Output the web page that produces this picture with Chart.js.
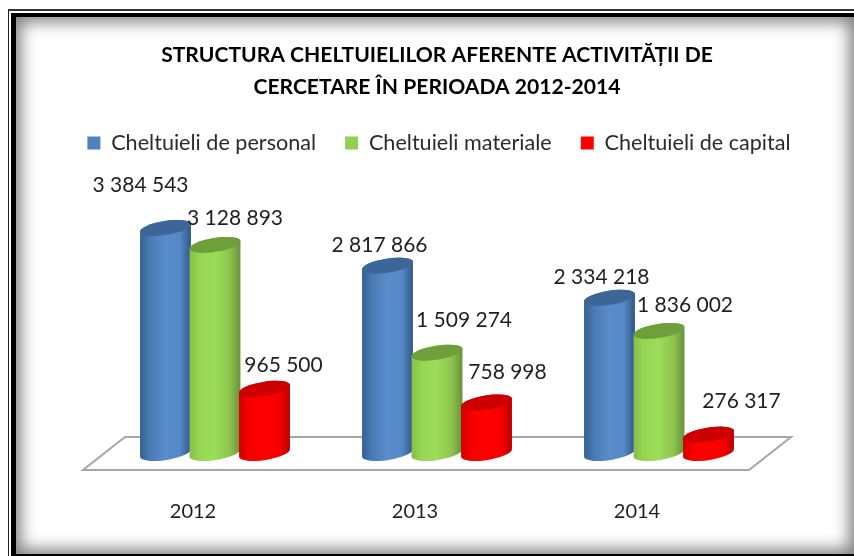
<!DOCTYPE html>
<html><head><meta charset="utf-8">
<style>
html,body{margin:0;padding:0;background:#fff;width:854px;height:556px;overflow:hidden}
#f1{position:absolute;left:8px;top:9px;width:846px;height:547px;box-sizing:border-box;border-left:1px solid #222;border-top:2px solid #333}
#f2{position:absolute;left:11px;top:13px;width:843px;height:543px;box-sizing:border-box;border-style:solid;border-color:#000;border-width:4px 0 2px 5px;box-shadow:inset 0 0 16px 5px #808080}
canvas{position:absolute;left:20px;top:0;filter:blur(0.35px)}
</style>
<script src="https://cdn.jsdelivr.net/npm/chart.js@4/dist/chart.umd.min.js"></script>
</head><body>
<div id="f1"></div><div id="f2"></div>
<canvas id="c" width="834" height="556"></canvas>
<script>
const titleLines = ["STRUCTURA CHELTUIELILOR AFERENTE ACTIVITĂȚII DE", "CERCETARE ÎN PERIOADA 2012-2014"];
const years = ["2012", "2013", "2014"];
const personal = [3384543, 2817866, 2334218];
const materiale = [3128893, 1509274, 1836002];
const capital = [965500, 758998, 276317];
const seriesNames = ["Cheltuieli de personal", "Cheltuieli materiale", "Cheltuieli de capital"];

const labelNudge = [
  [[-25,-43],[-8,-20],[-8,-21]],
  [[20,-27],[27,-32],[26,-26]],
  [[19,-24],[21,-30],[33,-33]]
];
const looks = [
  {stops:["#34608f","#4a7ab4","#5a8ccb","#5588c6","#2f5684"],cap:"#3b6697"},
  {stops:["#86bd48","#97d655","#9bdc58","#8ec44d","#66903a"],cap:"#6f9f3a"},
  {stops:["#d20000","#f50000","#ff0000","#f80000","#b80000"],cap:"#cc0000"}
];
const TILT = -9*Math.PI/180, RY = 7;
const fmt = v => String(v).replace(/\B(?=(\d{3})+$)/g," ");

const cylinders = {
  id:"cylinders",
  afterLayout(chart){
    chart.legend.left += 2; chart.legend.right += 2;
    chart.legend.top -= 1; chart.legend.bottom -= 1;
  },
  beforeDatasetsDraw(chart){
    const {ctx,chartArea:a,scales:{y}} = chart, b = y.getPixelForValue(0);
    ctx.save();
    ctx.strokeStyle="#a6a6a6"; ctx.lineWidth=2; ctx.lineJoin="miter";
    ctx.beginPath();
    ctx.moveTo(a.left-21,b+17); ctx.lineTo(a.left+21,b-16);
    ctx.lineTo(a.right+21,b-16); ctx.lineTo(a.right-21,b+17); ctx.closePath();
    ctx.stroke(); ctx.restore();
    chart.data.datasets.forEach((ds,i)=>{
      const look = looks[i];
      chart.getDatasetMeta(i).data.forEach(el=>{
        const rx = el.width/2+1, x = el.x, t = el.y, bb = el.base;
        const g = ctx.createLinearGradient(x-rx,0,x+rx,0);
        look.stops.forEach((c,k)=>g.addColorStop([0,.2,.5,.78,1][k],c));
        ctx.save();
        ctx.fillStyle = g;
        ctx.beginPath();
        ctx.ellipse(x,bb,rx,RY,TILT,Math.PI,0,true);
        ctx.ellipse(x,t,rx,RY,TILT,0,Math.PI,true);
        ctx.closePath(); ctx.fill();
        ctx.fillStyle = look.cap;
        ctx.beginPath(); ctx.ellipse(x,t,rx,RY,TILT,0,2*Math.PI); ctx.fill();
        ctx.restore();
      });
    });
  },
  beforeDatasetDraw(){ return false; },
  afterDatasetsDraw(chart){
    const {ctx} = chart;
    ctx.save();
    ctx.font = "21px Lato"; ctx.fillStyle="#1f1f1f";
    ctx.textAlign="center"; ctx.textBaseline="middle";
    chart.data.datasets.forEach((ds,i)=>{
      chart.getDatasetMeta(i).data.forEach((el,j)=>{
        const [dx,dy] = labelNudge[i][j];
        ctx.fillText(fmt(ds.data[j]),el.x+dx,el.y+dy);
      });
    });
    ctx.restore();
  }
};

new Chart(document.getElementById("c"),{
  type:"bar",
  data:{labels:years,datasets:[
    {label:seriesNames[0],data:personal,backgroundColor:"#4f81bd"},
    {label:seriesNames[1],data:materiale,backgroundColor:"#92d050"},
    {label:seriesNames[2],data:capital,backgroundColor:"#ff0000"}
  ]},
  options:{
    responsive:false,animation:false,devicePixelRatio:1,
    categoryPercentage:0.669,barPercentage:1,
    layout:{padding:0},
    plugins:{
      tooltip:{enabled:false},
      title:{display:true,text:titleLines,color:"#000",
        font:{family:"Lato",size:21.1,weight:"bold",lineHeight:1.52},
        padding:{top:39,bottom:1}},
      legend:{display:true,position:"top",
        labels:{font:{family:"Lato",size:21.6},color:"#2b2b2b",boxWidth:13,boxHeight:13,padding:29}}
    },
    scales:{
      x:{grid:{display:false},border:{display:false},
        ticks:{font:{family:"Lato",size:20},color:"#1f1f1f",labelOffset:-22,padding:39,maxRotation:0},
        afterFit(s){s.height=103;}},
      y:{min:0,max:4335000,display:true,grid:{display:false},border:{display:false},
        ticks:{display:false},afterFit(s){s.width=84;}},
      y2:{position:"right",display:true,grid:{display:false},border:{display:false},
        ticks:{display:false},afterFit(s){s.width=84;}}
    }
  },
  plugins:[cylinders]
});
</script>
</body></html>
